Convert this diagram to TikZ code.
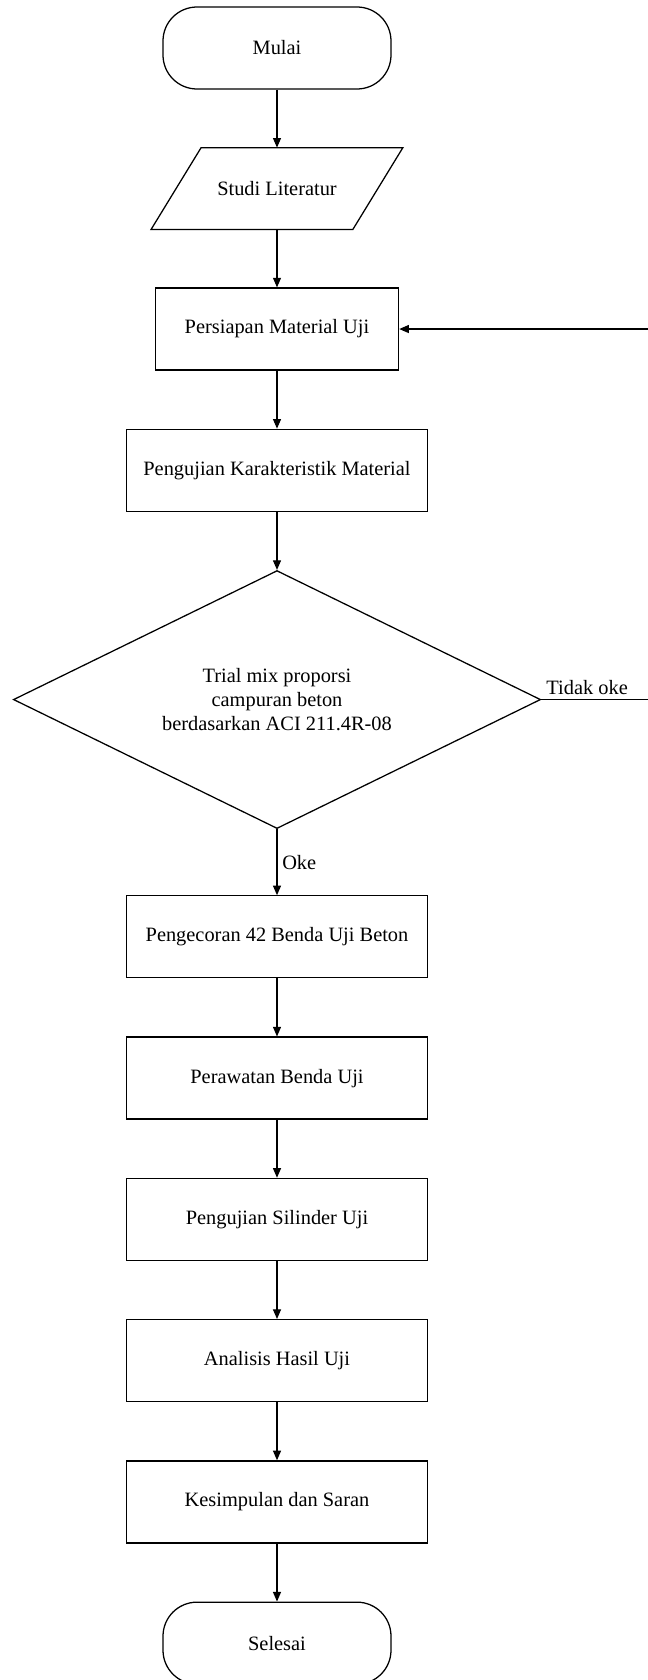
\documentclass[tikz,border=0pt]{standalone}
\usepackage{fontspec}
\setmainfont{Liberation Serif}
\usetikzlibrary{arrows.meta,positioning,shapes.geometric}

\begin{document}
\begin{tikzpicture}[
node distance=1.45cm,
font=\fontsize{14.5}{17}\selectfont,
term/.style={draw, line width=0.9pt, rounded corners=0.85cm, minimum width=5.7cm, minimum height=2.05cm},
io/.style={minimum width=6.28cm, minimum height=2.03cm},
box/.style={draw, line width=0.9pt, align=center, minimum width=7.53cm, minimum height=2.05cm},
dec/.style={draw, line width=0.9pt, diamond, aspect=2, align=center, inner sep=0pt, minimum width=13.18cm, minimum height=6.45cm},
arrow/.style={-{Triangle[length=2.4mm,width=2mm]}, line width=0.8pt}
]
\useasboundingbox (0,0) rectangle (16.2,-42);
\clip (0,0) rectangle (16.2,-42);

\node[term] (mulai) at (6.925,-1.2) {Mulai};
\node[io, below=of mulai] (studi) {Studi Literatur};
\draw[line width=0.9pt] ([xshift=1.25cm]studi.north west) -- (studi.north east)
  -- ([xshift=-1.25cm]studi.south east) -- (studi.south west) -- cycle;
\node[box, minimum width=6.08cm, below=of studi] (persiapan) {Persiapan Material Uji};
\node[box, below=of persiapan] (karakter) {Pengujian Karakteristik Material};
\node[dec, below=of karakter] (trial) {Trial mix proporsi\\campuran beton\\berdasarkan ACI 211.4R-08};
\node[box, below=1.65cm of trial] (cor) {Pengecoran 42 Benda Uji Beton};
\node[box, below=of cor] (rawat) {Perawatan Benda Uji};
\node[box, below=of rawat] (silinder) {Pengujian Silinder Uji};
\node[box, below=of silinder] (analisis) {Analisis Hasil Uji};
\node[box, below=of analisis] (simpulan) {Kesimpulan dan Saran};
\node[term, below=of simpulan] (selesai) {Selesai};
\coordinate (balik) at (16.6,0);

\draw[arrow] (mulai) -- (studi);
\draw[arrow] (studi) -- (persiapan);
\draw[arrow] (persiapan) -- (karakter);
\draw[arrow] (karakter) -- (trial);
\draw[arrow] (trial) -- node[right]{Oke} (cor);
\draw[arrow] (cor) -- (rawat);
\draw[arrow] (rawat) -- (silinder);
\draw[arrow] (silinder) -- (analisis);
\draw[arrow] (analisis) -- (simpulan);
\draw[arrow] (simpulan) -- (selesai);
\draw[arrow] (trial.east) -- node[pos=0, above right]{Tidak oke} (trial.east -| balik) |- (persiapan.east);
\end{tikzpicture}
\end{document}
